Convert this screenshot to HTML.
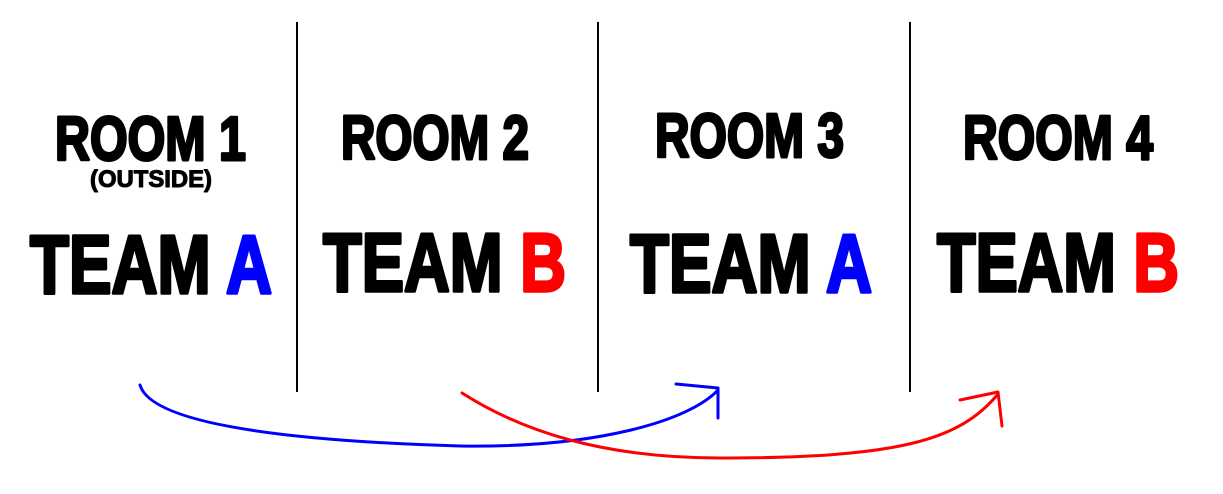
<!DOCTYPE html>
<html><head><meta charset="utf-8"><style>html,body{margin:0;padding:0;background:#fff}svg{display:block}</style></head>
<body>
<svg width="1223" height="494" viewBox="0 0 1223 494" xmlns="http://www.w3.org/2000/svg">
<rect width="1223" height="494" fill="#fff"/>
<g stroke="#000" stroke-width="2">
<line x1="297" y1="22" x2="297" y2="392"/>
<line x1="598" y1="22" x2="598" y2="392"/>
<line x1="910" y1="22" x2="910" y2="392"/>
</g>
<g font-family="Liberation Sans, sans-serif" font-weight="bold" stroke-linejoin="round">
<g font-size="62" stroke="#000" stroke-width="3" fill="#000">
<text x="55" y="160" textLength="191" lengthAdjust="spacingAndGlyphs">ROOM 1</text>
<text x="341" y="159" textLength="188" lengthAdjust="spacingAndGlyphs">ROOM 2</text>
<text x="655" y="157" textLength="189" lengthAdjust="spacingAndGlyphs">ROOM 3</text>
<text x="963" y="159" textLength="190" lengthAdjust="spacingAndGlyphs">ROOM 4</text>
</g>
<text x="90" y="187" font-size="24" textLength="122" lengthAdjust="spacingAndGlyphs" stroke="#000" stroke-width="1">(OUTSIDE)</text>
<g font-size="83" stroke-width="3.5">
<text x="30" y="293" textLength="242" lengthAdjust="spacingAndGlyphs" fill="#000" stroke="#000">TEAM <tspan fill="#0000ff" stroke="#0000ff">A</tspan></text>
<text x="323" y="291" textLength="243" lengthAdjust="spacingAndGlyphs" fill="#000" stroke="#000">TEAM <tspan fill="#ff0000" stroke="#ff0000">B</tspan></text>
<text x="630" y="292" textLength="242" lengthAdjust="spacingAndGlyphs" fill="#000" stroke="#000">TEAM <tspan fill="#0000ff" stroke="#0000ff">A</tspan></text>
<text x="937" y="291" textLength="242" lengthAdjust="spacingAndGlyphs" fill="#000" stroke="#000">TEAM <tspan fill="#ff0000" stroke="#ff0000">B</tspan></text>
</g>
</g>
<g fill="none" stroke-width="3" stroke-linecap="round" stroke-linejoin="round">
<path d="M140 385 C150 420 260 440 460 446 C600 448 690 420 718 390" stroke="#0000ff"/>
<path d="M676 384 L718 388 L718 418" stroke="#0000ff"/>
<path d="M462 393 C520 430 600 458 720 458 C900 458 960 440 998 394" stroke="#ff0000"/>
<path d="M960 400 L998 392 L1002 426" stroke="#ff0000"/>
</g>
</svg>
</body></html>
